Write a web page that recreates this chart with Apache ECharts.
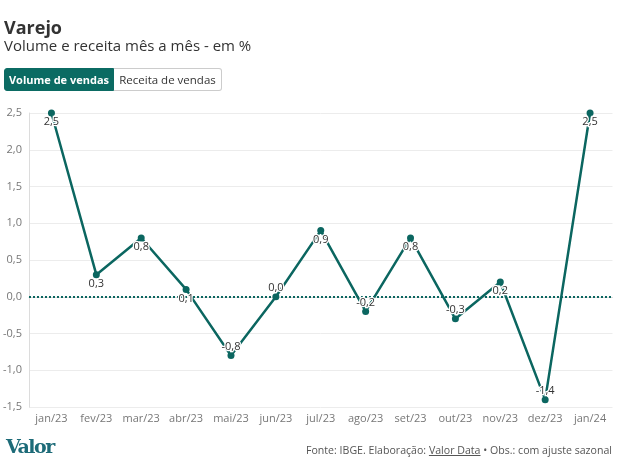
<!DOCTYPE html>
<html><head><meta charset="utf-8">
<script src="https://cdn.jsdelivr.net/npm/echarts@6/dist/echarts.min.js"></script>
<style>
html,body{margin:0;padding:0;background:#fff;font-family:"Open Sans",sans-serif;}
#wrap{position:relative;width:640px;height:475px;overflow:hidden;}
#chart{position:absolute;left:0;top:0;width:640px;height:475px;}
.t{position:absolute;white-space:nowrap;line-height:1;}
#title{left:4px;top:18px;font-size:18px;font-weight:700;color:#333;}
#sub{left:4px;top:38px;font-size:15px;color:#333;}
.btn{position:absolute;top:68px;height:23px;box-sizing:border-box;line-height:21px;text-align:center;white-space:nowrap;overflow:visible;}
#b1{left:4px;width:110px;background:#0b6b63;color:#fff;font-weight:700;font-size:11px;border:1px solid #0b6b63;border-radius:3px 0 0 3px;}
#b2{left:114px;width:108px;background:#fff;color:#333;font-size:11.5px;border:1px solid #ccc;border-left:none;border-radius:0 3px 3px 0;}
#logo{left:6px;top:437px;font-family:"DejaVu Serif",serif;font-weight:700;font-size:19px;color:#1d6b78;letter-spacing:-1.5px;}
#foot{right:28px;top:445px;font-size:10.6px;color:#555;}
#foot u{text-decoration:underline;}
</style></head>
<body><div id="wrap">
<div id="chart"></div>
<div class="t" id="title">Varejo</div>
<div class="t" id="sub">Volume e receita mês a mês - em %</div>
<div class="btn" id="b1">Volume de vendas</div>
<div class="btn" id="b2">Receita de vendas</div>
<div class="t" id="logo">Valor</div>
<div class="t" id="foot">Fonte: IBGE. Elaboração: <u>Valor Data</u> • Obs.: com ajuste sazonal</div>
</div>
<script>
const categories = ['jan/23','fev/23','mar/23','abr/23','mai/23','jun/23','jul/23','ago/23','set/23','out/23','nov/23','dez/23','jan/24'];
const volume = [2.5, 0.3, 0.8, 0.1, -0.8, 0.0, 0.9, -0.2, 0.8, -0.3, 0.2, -1.4, 2.5];
const yMin = -1.5, yMax = 2.5, yStep = 0.5;

const teal = '#0b6660';
const fmt = v => v.toFixed(1).replace('.', ',');
const chart = echarts.init(document.getElementById('chart'), null, {renderer:'canvas'});
chart.setOption({
  animation:false,
  textStyle:{fontFamily:'"Open Sans", sans-serif'},
  grid:{left:29, right:27.5, top:113, bottom:68, containLabel:false},
  xAxis:{
    type:'category', data:categories, boundaryGap:true,
    axisLine:{lineStyle:{color:'#dcdcdc'}},
    axisTick:{alignWithLabel:true, length:4, lineStyle:{color:'#dcdcdc'}},
    axisLabel:{color:'#777', fontSize:11, margin:6, interval:0}
  },
  yAxis:{
    type:'value', min:yMin, max:yMax, interval:yStep,
    axisLine:{show:true, lineStyle:{color:'#dcdcdc'}},
    axisTick:{show:false},
    axisLabel:{color:'#777', fontSize:11, margin:7, formatter:v=>fmt(v)},
    splitLine:{lineStyle:{color:'#ececec'}}
  },
  series:[{
    type:'line', data:volume.map(v=>({
      value:v,
      label:{offset:[0, v>0 ? 9 : -9]}
    })),
    symbol:'circle', symbolSize:7,
    itemStyle:{color:teal},
    lineStyle:{color:teal, width:2.5},
    label:{show:true, position:'inside', color:'#333', fontSize:11,
      textBorderColor:'#fff', textBorderWidth:2.5, formatter:p=>fmt(p.value)},
    markLine:{silent:true, symbol:'none', z:1,
      lineStyle:{color:teal, type:'dotted', width:2},
      label:{show:false}, data:[{yAxis:0}]}
  }]
});
</script>
</body></html>
